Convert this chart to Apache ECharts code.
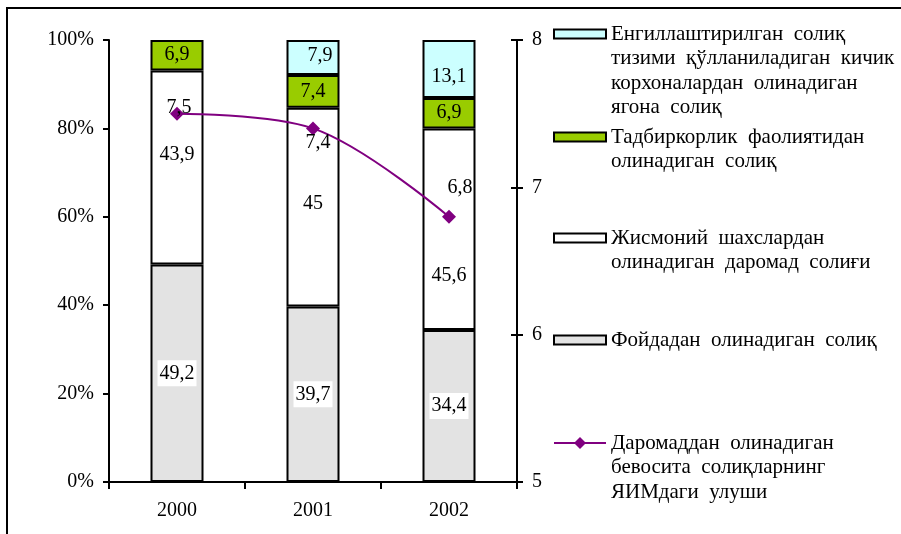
<!DOCTYPE html>
<html>
<head>
<meta charset="utf-8">
<title>Солиқлар</title>
<script src="https://cdn.jsdelivr.net/npm/echarts@6/dist/echarts.min.js"></script>
</head>
<body style="margin:0;background:#fff">
<div id="container" style="width:901px;height:534px"></div>
<script type="text/javascript">
    // data
    var years = ['2000', '2001', '2002'];
    var profitTax = [49.2, 39.7, 34.4];      // Фойдадан олинадиган солиқ
    var personalTax = [43.9, 45, 45.6];      // Жисмоний шахслардан ...
    var businessTax = [6.9, 7.4, 6.9];       // Тадбиркорлик фаолиятидан ...
    var singleTax = [null, 7.9, 13.1];       // Енгиллаштирилган солиқ ...
    var gdpShare = [7.5, 7.4, 6.8];          // ЯИМдаги улуши
    var pctTicks = [0, 20, 40, 60, 80, 100];
    var shareTicks = [5, 6, 7, 8];

    var names = [
        'Фойдадан олинадиган солиқ',
        'Жисмоний шахслардан олинадиган даромад солиғи',
        'Тадбиркорлик фаолиятидан олинадиган солиқ',
        'Енгиллаштирилган солиқ тизими қўлланиладиган кичик корхоналардан олинадиган ягона солиқ',
        'Даромаддан олинадиган бевосита солиқларнинг ЯИМдаги улуши'
    ];
    var legendLines = {};
    legendLines[names[0]] = ['Фойдадан  олинадиган  солиқ'];
    legendLines[names[1]] = ['Жисмоний  шахслардан', 'олинадиган  даромад  солиғи'];
    legendLines[names[2]] = ['Тадбиркорлик  фаолиятидан', 'олинадиган  солиқ'];
    legendLines[names[3]] = ['Енгиллаштирилган  солиқ', 'тизими  қўлланиладиган  кичик', 'корхоналардан  олинадиган', 'ягона  солиқ'];
    legendLines[names[4]] = ['Даромаддан  олинадиган', 'бевосита  солиқларнинг', 'ЯИМдаги  улуши'];

    var FONT = 'Liberation Serif';
    var LH = 24.5;
    var BORDER = 2;

    function fmt(v) {
        return String(v).replace('.', ',');
    }

    // label nudges, like hand-moved labels in the original
    var personalOff = [[0, -13], [0, -3], [0, 47]];
    var singleOff = [[0, 0], [7, -2], [0, 8]];
    var lineOff = [[2, -6], [5, 14], [11, -29]];

    function withOffsets(vals, offs) {
        return vals.map(function (v, i) {
            return {value: v, label: {offset: offs[i]}};
        });
    }

    // one legend per item, first text line centred on its icon
    var legendOrder = [3, 2, 1, 0, 4];
    var firstLineY = [34, 137, 238, 340, 443];
    var legends = legendOrder.map(function (k, i) {
        var lines = legendLines[names[k]];
        var n = lines.length;
        var isLine = k === 4;
        var lg = {
            data: [names[k]],
            left: 553,
            top: firstLineY[i] - (2 * n - 1) * LH / 2,
            padding: 0,
            itemWidth: 52,
            itemHeight: isLine ? 15 : 9,
            selectedMode: false,
            textStyle: {fontFamily: FONT, fontSize: 21, color: '#000', lineHeight: LH},
            formatter: function () {
                var pad = new Array(n).join('\n');
                return pad + lines.join('\n');
            }
        };
        if (!isLine) {
            lg.icon = 'rect';
            lg.itemStyle = {borderColor: '#000', borderWidth: 2};
        }
        return lg;
    });

    var barLabel = {
        show: true,
        position: 'inside',
        fontFamily: FONT,
        fontSize: 20,
        color: '#000',
        formatter: function (p) { return fmt(p.value); }
    };

    var option = {
        animation: false,
        backgroundColor: '#fff',
        graphic: [{
            type: 'rect',
            shape: {x: 7, y: 8, width: 1200, height: 1200},
            style: {fill: 'none', stroke: '#000', lineWidth: 2},
            silent: true
        }],
        legend: legends,
        grid: {left: 109, right: 384, top: 40, bottom: 52},
        xAxis: {
            type: 'category',
            data: years,
            boundaryGap: true,
            axisLine: {lineStyle: {color: '#000', width: 2}},
            axisTick: {show: true, length: 7, lineStyle: {color: '#000', width: 2}},
            axisLabel: {fontFamily: FONT, fontSize: 20, color: '#000', margin: 19}
        },
        yAxis: [{
            type: 'value',
            min: pctTicks[0],
            max: pctTicks[pctTicks.length - 1],
            interval: pctTicks[1] - pctTicks[0],
            position: 'left',
            splitLine: {show: false},
            axisLine: {show: true, lineStyle: {color: '#000', width: 2}},
            axisTick: {show: true, length: 6, lineStyle: {color: '#000', width: 2}},
            axisLabel: {fontFamily: FONT, fontSize: 20, color: '#000', margin: 15, formatter: '{value}%'}
        }, {
            type: 'value',
            min: shareTicks[0],
            max: shareTicks[shareTicks.length - 1],
            interval: 1,
            position: 'right',
            splitLine: {show: false},
            axisLine: {show: true, lineStyle: {color: '#000', width: 2}},
            axisTick: {show: true, length: 6, lineStyle: {color: '#000', width: 2}},
            axisLabel: {fontFamily: FONT, fontSize: 20, color: '#000', margin: 15}
        }, {
            // inner half of the cross ticks on the right axis
            type: 'value',
            min: shareTicks[0],
            max: shareTicks[shareTicks.length - 1],
            interval: 1,
            position: 'right',
            splitLine: {show: false},
            axisLine: {show: false},
            axisTick: {show: true, inside: true, length: 6, lineStyle: {color: '#000', width: 2}},
            axisLabel: {show: false}
        }],
        series: [{
            name: names[0],
            type: 'bar',
            stack: 'tax',
            barWidth: 53,
            data: profitTax,
            itemStyle: {color: '#e3e3e3', borderColor: '#000', borderWidth: BORDER},
            label: Object.assign({}, barLabel, {backgroundColor: '#fff', padding: [4, 2, 2, 2]})
        }, {
            name: names[1],
            type: 'bar',
            stack: 'tax',
            barWidth: 53,
            data: withOffsets(personalTax, personalOff),
            itemStyle: {color: '#fff', borderColor: '#000', borderWidth: BORDER},
            label: barLabel
        }, {
            name: names[2],
            type: 'bar',
            stack: 'tax',
            barWidth: 53,
            data: businessTax,
            itemStyle: {color: '#99cc00', borderColor: '#000', borderWidth: BORDER},
            label: barLabel
        }, {
            name: names[3],
            type: 'bar',
            stack: 'tax',
            barWidth: 53,
            data: withOffsets(singleTax, singleOff),
            itemStyle: {color: '#ccffff', borderColor: '#000', borderWidth: BORDER},
            label: barLabel
        }, {
            name: names[4],
            type: 'line',
            yAxisIndex: 1,
            smooth: 0.35,
            symbol: 'diamond',
            symbolSize: 14,
            z: 5,
            data: withOffsets(gdpShare, lineOff),
            lineStyle: {color: '#800080', width: 2},
            itemStyle: {color: '#800080'},
            label: {
                show: true,
                position: 'inside',
                fontFamily: FONT,
                fontSize: 20,
                color: '#000',
                formatter: function (p) { return fmt(p.value); }
            }
        }]
    };

    var myChart = echarts.init(document.getElementById('container'));
    myChart.setOption(option, true);
</script>
</body>
</html>
